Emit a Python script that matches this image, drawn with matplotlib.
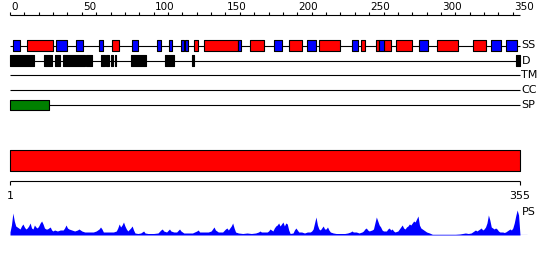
import matplotlib
matplotlib.use("Agg")
import matplotlib.pyplot as plt

seq_len = 355

# secondary structure (residue start, end)
helix_segments = [(12, 30), (71, 76), (128, 131), (135, 159), (167, 177), (194, 203),
                  (215, 230), (244, 247), (255, 257), (260, 265), (269, 280),
                  (297, 312), (322, 331)]
strand_segments = [(2, 7), (32, 40), (46, 51), (62, 65), (85, 89), (102, 105),
                   (111, 113), (119, 121), (122, 124), (159, 161), (184, 189),
                   (207, 213), (238, 242), (257, 260), (285, 291), (335, 342),
                   (345, 353)]
disorder_segments = [(0, 17), (24, 29), (31, 35), (37, 52), (53, 57), (63, 66),
                     (67, 69), (70, 72), (73, 74), (84, 95), (108, 114),
                     (127, 128), (352, 355)]
tm_segments = []
cc_segments = []
sp_segments = [(0, 27)]

track_names = ["SS", "D", "TM", "CC", "SP"]

ps_pos = [0, 1, 2, 3, 4, 5, 6, 7, 8, 9, 10, 11, 12, 13, 14, 15, 16, 17, 18, 19,
          20, 21, 22, 23, 24, 25, 26, 27, 28, 29, 30, 31, 33, 35, 37, 38, 39, 40,
          41, 43, 45, 47, 48, 50, 52, 55, 58, 60, 62, 63, 64, 65, 68, 70, 72, 74,
          75, 76, 77, 78, 79, 80, 81, 82, 84, 85, 86, 87, 89, 91, 93, 94, 96, 100,
          103, 105, 106, 107, 109, 111, 112, 114, 116, 118, 119, 121, 124, 127,
          130, 131, 132, 135, 138, 140, 141, 142, 143, 145, 148, 150, 151, 152,
          154, 155, 156, 157, 159, 162, 165, 168, 171, 173, 174, 175, 177, 179,
          180, 181, 182, 183, 184, 185, 186, 187, 188, 189, 190, 191, 192, 193,
          194, 195, 197, 198, 199, 200, 201, 203, 205, 207, 209, 210, 211, 212,
          213, 214, 215, 216, 217, 218, 219, 220, 221, 222, 223, 225, 227, 230,
          233, 235, 237, 238, 239, 241, 243, 245, 246, 247, 248, 249, 250, 252,
          253, 254, 255, 256, 257, 258, 259, 260, 262, 263, 264, 265, 266, 267,
          268, 270, 271, 272, 273, 274, 275, 276, 277, 278, 279, 280, 281, 282,
          283, 284, 285, 286, 287, 288, 289, 290, 292, 294, 300, 305, 310, 313,
          315, 317, 319, 321, 322, 323, 324, 325, 326, 327, 328, 329, 330, 331,
          332, 333, 334, 335, 336, 337, 338, 339, 340, 341, 342, 343, 344, 345,
          346, 347, 348, 349, 350, 351, 352, 353, 354, 355]
ps_val = [3, 10, 22, 14, 9, 8, 7, 6, 9, 11, 8, 6, 7, 9, 12, 7, 6, 10, 8, 7,
          9, 12, 14, 11, 7, 6, 6, 7, 8, 5, 4, 5, 4, 5, 5, 7, 10, 7,
          6, 5, 4, 5, 6, 4, 3, 3, 3, 4, 6, 8, 6, 3, 3, 3, 3, 4,
          7, 11, 8, 10, 13, 9, 6, 4, 7, 9, 5, 2, 1.5, 2, 4, 2, 1.5, 1.5,
          2, 5, 6, 4, 3, 6, 4, 3, 3, 6, 4, 2, 2, 2,
          4, 5, 3, 3, 3, 4, 6, 8, 5, 3, 3, 6, 7, 5,
          9, 12, 7, 3, 2, 1.5, 2, 1.5, 2, 3, 4, 3, 3, 3,
          4, 6, 5, 4, 7, 9, 10, 12, 9, 11, 13, 9, 12, 11,
          5, 1.5, 2, 5, 7, 5, 3, 3, 2, 3, 3, 4, 6, 12,
          18, 10, 6, 5, 7, 9, 6, 6, 8, 5, 3, 2, 1.5, 1.5,
          1.5, 2, 3, 4, 3, 3, 2, 3, 4, 6, 7, 5, 4, 5,
          6, 12, 18, 14, 10, 8, 5, 4, 4, 6, 7, 5, 6, 4,
          3, 4, 6, 8, 10, 7, 6, 8, 9, 11, 10, 12, 14, 13,
          16, 19, 10, 7, 6, 5, 4, 3, 2, 0.7, 0.7, 0.7, 0.7, 1,
          1.5, 2, 1.5, 2, 3, 4, 5, 4, 5, 6, 7, 5, 6, 8,
          12, 20, 15, 8, 7, 6, 7, 6, 4, 3, 3, 3, 2.5, 3,
          4, 5, 6, 5, 7, 12, 19, 25, 20, 0]

PX = 510 / seq_len
xlim = (-10 / PX, (550 - 10) / PX)
LW = 0.8

fig = plt.figure(figsize=(5.5, 2.6), dpi=100)
ax = fig.add_axes([0, 0, 1, 1])
ax.set_xlim(*xlim)
ax.set_ylim(260, 0)
ax.axis("off")

# top ruler
ax.hlines(15, 0, seq_len, color="black", lw=LW)
ticks = list(range(0, seq_len, 10))
ax.vlines(ticks, 12, 15, color="black", lw=LW)
for t in range(0, seq_len, 50):
    ax.text(t + 0.8, 9.5, str(t), ha="left", va="baseline", fontsize=7.5)

# feature tracks
track_y = [45.5, 60.5, 75, 90, 105]
track_segs = [None, disorder_segments, tm_segments, cc_segments, sp_segments]
track_cols = [None, "black", "black", "black", "green"]
for name, y, segs, col in zip(track_names, track_y, track_segs, track_cols):
    ax.hlines(y, 0, seq_len, color="black", lw=LW, zorder=1)
    ax.text(seq_len + 1, y, name, ha="left", va="center", fontsize=8)
    if name == "SS":
        for s, c in ((helix_segments, "red"), (strand_segments, "blue")):
            ax.broken_barh([(a, b - a) for a, b in s], (y - 5.3, 10.6),
                           facecolor=c, edgecolor="black", lw=LW, zorder=2)
    elif segs:
        ax.broken_barh([(a, b - a) for a, b in segs], (y - 5.3, 10.6),
                       facecolor=col, edgecolor="black", lw=LW, zorder=2)

# full length bar
ax.broken_barh([(0, seq_len)], (150, 20.5), facecolor="red",
               edgecolor="black", lw=LW)
ax.hlines(181, 0, seq_len, color="black", lw=LW)
ax.vlines([0, seq_len], 181, 185, color="black", lw=LW)
ax.text(0, 196, "1", ha="center", va="center", fontsize=8)
ax.text(seq_len, 196, str(seq_len), ha="center", va="center", fontsize=8)

# PS profile
ax_ps = fig.add_axes([0, (260 - 235) / 260, 1, 26 / 260])
ax_ps.set_xlim(*xlim)
ax_ps.set_ylim(0, 26)
ax_ps.axis("off")
ax_ps.fill_between(ps_pos, ps_val, 0, color="blue", lw=0)
ax_ps.hlines(0.3, 0, seq_len + 5, color="blue", lw=LW)
ax_ps.text(seq_len + 1, 23, "PS", ha="left", va="center", fontsize=8)

fig.savefig("out.png", dpi=100)
